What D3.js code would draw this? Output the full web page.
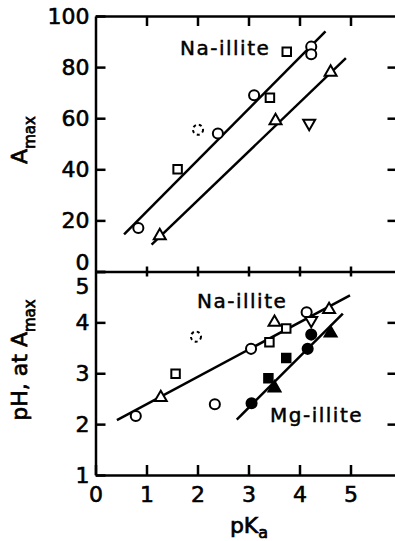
<!DOCTYPE html>
<html>
<head>
<meta charset="utf-8">
<script src="https://cdn.jsdelivr.net/npm/d3@7"></script>
<style>
body { margin: 0; background: #fff; }
svg { display: block; font-family: "DejaVu Sans", sans-serif; }
.axis path, .axis line { stroke: #000; stroke-width: 2.5; }
.axis text { font-size: 22px; fill: #000; font-family: "DejaVu Sans", sans-serif; stroke: #000; stroke-width: 0.6px; }
.note { font-size: 20px; fill: #000; letter-spacing: 1.5px; stroke: #000; stroke-width: 0.5px; }
.title { font-size: 22px; fill: #000; stroke: #000; stroke-width: 0.7px; }
</style>
</head>
<body>
<svg id="chart" width="395" height="541"></svg>
<script>
const pKaTicks = [0, 1, 2, 3, 4, 5]
const amaxTicks = [0, 20, 40, 60, 80, 100]
const phTicks = [1, 2, 3, 4, 5]

// top panel, Na-illite: [pKa, Amax]
const amaxCircles = [[0.84, 17], [2.40, 54], [3.11, 69], [4.23, 88], [4.23, 85]]
const amaxDashedCircles = [[2.01, 55.5]]
const amaxSquares = [[1.61, 40], [3.42, 68], [3.75, 86]]
const amaxTriangles = [[1.26, 14], [3.53, 59], [4.61, 78]]
const amaxDownTriangles = [[4.19, 58]]
const amaxFitUpper = [[0.56, 14.5], [4.51, 94]]
const amaxFitLower = [[1.10, 10.5], [4.91, 83.5]]

// bottom panel: [pKa, pH at Amax]
const phNaCircles = [[0.79, 2.16], [2.34, 2.39], [3.05, 3.48], [4.14, 4.2]]
const phNaDashedCircles = [[1.97, 3.72]]
const phNaSquares = [[1.57, 2.99], [3.41, 3.61], [3.74, 3.88]]
const phNaTriangles = [[1.28, 2.52], [3.51, 4.0], [4.58, 4.25]]
const phNaDownTriangles = [[4.23, 4.04]]
const phMgCircles = [[3.06, 2.41], [4.16, 3.48], [4.23, 3.76]]
const phMgSquares = [[3.39, 2.9], [3.74, 3.3]]
const phMgTriangles = [[3.51, 2.71], [4.61, 3.79]]
const phNaFit = [[0.42, 2.08], [4.99, 4.53]]
const phMgFit = [[2.77, 2.09], [4.85, 4.17]]

const svg = d3.select('#chart')
const fmt = d3.format('d')

const x = d3.scaleLinear().domain([0, 6]).range([95.5, 401.5])
const yTop = d3.scaleLinear().domain([0, 100]).range([271.5, 16])
const yBot = d3.scaleLinear().domain([1, 5]).range([475, 271.5])

// axes
svg.append('g').attr('class', 'axis')
    .attr('transform', 'translate(' + x(0) + ',0)')
    .call(d3.axisLeft(yTop).tickValues(amaxTicks).tickSize(-10).tickSizeOuter(0).tickPadding(6).tickFormat(fmt))
    .selectAll('text').filter(d => d === 0).attr('dy', '-0.08em')

svg.append('g').attr('class', 'axis')
    .attr('transform', 'translate(' + x(0) + ',0)')
    .call(d3.axisLeft(yBot).tickValues(phTicks).tickSize(-10).tickSizeOuter(0).tickPadding(6).tickFormat(fmt))
    .selectAll('text').filter(d => d === 5).attr('dy', '1.0em')

svg.append('g').attr('class', 'axis')
    .attr('transform', 'translate(' + x(6) + ',0)')
    .call(d3.axisRight(yTop).tickValues([20, 40, 60, 80]).tickSize(-14).tickSizeOuter(0).tickFormat(''))

svg.append('g').attr('class', 'axis')
    .attr('transform', 'translate(' + x(6) + ',0)')
    .call(d3.axisRight(yBot).tickValues([2, 3, 4]).tickSize(-14).tickSizeOuter(0).tickFormat(''))

svg.append('g').attr('class', 'axis')
    .attr('transform', 'translate(0,' + yTop(100) + ')')
    .call(d3.axisTop(x).tickValues([1, 2, 3, 4, 5]).tickSize(-10).tickSizeOuter(0).tickFormat(''))

svg.append('g').attr('class', 'axis')
    .attr('transform', 'translate(0,' + yTop(0) + ')')
    .call(d3.axisBottom(x).tickValues([1, 2, 3, 4, 5]).tickSize(5).tickSizeOuter(0).tickFormat(''))
    .selectAll('.tick line').attr('y1', -5)

svg.append('g').attr('class', 'axis')
    .attr('transform', 'translate(0,' + yBot(1) + ')')
    .call(d3.axisBottom(x).tickValues(pKaTicks).tickSize(-10).tickSizeOuter(0).tickPadding(11).tickFormat(fmt))

// fitted lines
const lineTop = d3.line().x(d => x(d[0])).y(d => yTop(d[1]))
const lineBot = d3.line().x(d => x(d[0])).y(d => yBot(d[1]))

const plot = svg.append('g')
;[amaxFitUpper, amaxFitLower].forEach(d => {
    plot.append('path').attr('d', lineTop(d)).attr('fill', 'none').attr('stroke', '#000').attr('stroke-width', 2.5)
})
;[phNaFit, phMgFit].forEach(d => {
    plot.append('path').attr('d', lineBot(d)).attr('fill', 'none').attr('stroke', '#000').attr('stroke-width', 2.5)
})

// markers
const shapes = {
    circle: d3.symbol(d3.symbolCircle, 80),
    square: d3.symbol(d3.symbolSquare, 72),
    triangle: d3.symbol(d3.symbolTriangle, 62)
}

function drawMarks(data, yScale, shape, filled, opts) {
    opts = opts || {}
    plot.selectAll(null)
        .data(data)
        .enter()
        .append('path')
            .attr('d', shapes[shape])
            .attr('transform', d => 'translate(' + x(d[0]) + ',' + yScale(d[1]) + ')' + (opts.flip ? ' rotate(180)' : ''))
            .attr('fill', filled ? '#000' : '#fff')
            .attr('stroke', '#000')
            .attr('stroke-width', 2)
            .attr('stroke-dasharray', opts.dashed ? '3,3' : null)
}

drawMarks(amaxCircles, yTop, 'circle', false)
drawMarks(amaxDashedCircles, yTop, 'circle', false, {dashed: true})
drawMarks(amaxSquares, yTop, 'square', false)
drawMarks(amaxTriangles, yTop, 'triangle', false)
drawMarks(amaxDownTriangles, yTop, 'triangle', false, {flip: true})

drawMarks(phNaCircles, yBot, 'circle', false)
drawMarks(phNaDashedCircles, yBot, 'circle', false, {dashed: true})
drawMarks(phNaSquares, yBot, 'square', false)
drawMarks(phNaTriangles, yBot, 'triangle', false)
drawMarks(phNaDownTriangles, yBot, 'triangle', false, {flip: true})
drawMarks(phMgCircles, yBot, 'circle', true)
drawMarks(phMgSquares, yBot, 'square', true)
drawMarks(phMgTriangles, yBot, 'triangle', true)

// panel notes
svg.append('text').attr('class', 'note').attr('x', 180).attr('y', 55).text('Na-illite')
svg.append('text').attr('class', 'note').attr('x', 197).attr('y', 308).text('Na-illite')
svg.append('text').attr('class', 'note').attr('x', 270).attr('y', 422).text('Mg-illite')

// axis titles
const tTop = svg.append('text').attr('class', 'title')
    .attr('transform', 'translate(27,140) rotate(-90)')
    .attr('text-anchor', 'middle')
tTop.append('tspan').text('A')
tTop.append('tspan').attr('dy', 8).style('font-size', '15px').text('max')

const tBot = svg.append('text').attr('class', 'title')
    .attr('transform', 'translate(27,360) rotate(-90)')
    .attr('text-anchor', 'middle')
tBot.append('tspan').text('pH, at A')
tBot.append('tspan').attr('dy', 8).style('font-size', '15px').text('max')

const tX = svg.append('text').attr('class', 'title')
    .attr('x', 249).attr('y', 533)
    .attr('text-anchor', 'middle')
tX.append('tspan').text('pK')
tX.append('tspan').attr('dy', 5).style('font-size', '16px').text('a')
</script>
</body>
</html>
